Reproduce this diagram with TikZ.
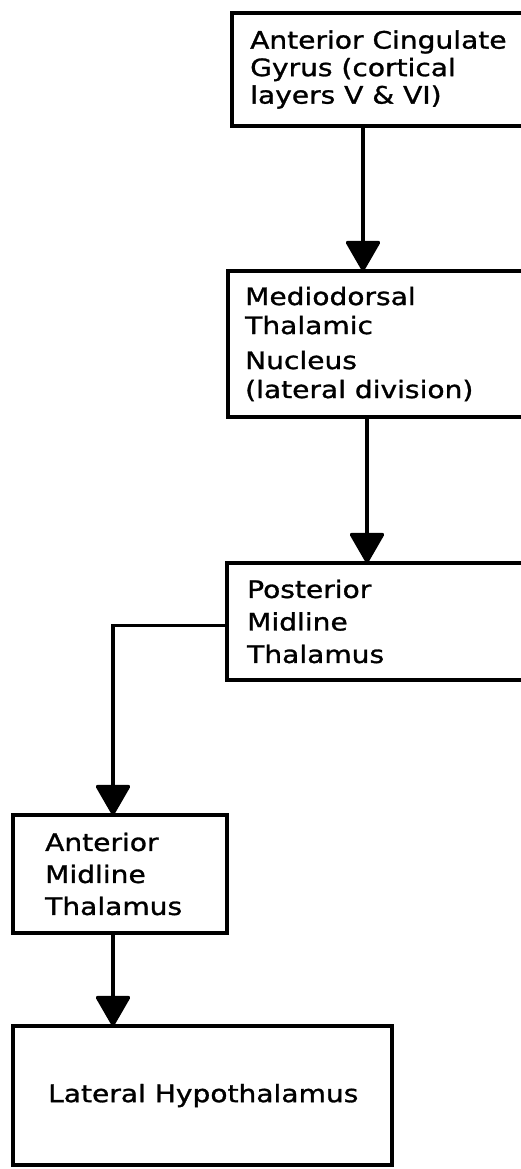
\documentclass[tikz,border=0pt]{standalone}
\usepackage{fontspec}
\setmainfont{DejaVu Sans}[FakeStretch=1.17, FakeBold=1.2]
\usetikzlibrary{arrows.meta}

\tikzset{
  box/.style={draw, line width=3.5pt, inner sep=0pt, outer sep=0pt, anchor=north west},
  label text/.style={anchor=west, align=left, inner sep=0pt,
    font=\fontsize{24}{#1}\selectfont},
  label text/.default=30,
  conn/.style={line width=3.5pt, -{Triangle[width=36pt,length=32pt,round]}},
  wire/.style={line width=3.5pt}
}

\begin{document}
\begin{tikzpicture}[x=1pt, y=-1pt]
  \clip (0,0) rectangle (521,1169);
  \fill[white] (0,0) rectangle (521,1169);

  % boxes (the upper three run past the right edge)
  \node[box, minimum width=320pt, minimum height=113pt] (acg) at (232,13) {};
  \node[box, minimum width=320pt, minimum height=146pt] (md)  at (228,271) {};
  \node[box, minimum width=320pt, minimum height=117pt] (pmt) at (227,563) {};
  \node[box, minimum width=214pt, minimum height=118pt] (amt) at (13,815) {};
  \node[box, minimum width=379pt, minimum height=139pt] (lh)  at (13,1026) {};

  % box texts
  \node[label text=27.5] (tacg) at ([xshift=18pt]acg.west)
    {Anterior Cingulate\\Gyrus (cortical\\layers V \& VI)};
  \node[label text=29] (tmd) at ([xshift=17pt]md.west)
    {Mediodorsal\\Thalamic\\[6pt]Nucleus\\(lateral division)};
  \node[label text=32.5] (tpmt) at ([xshift=20pt]pmt.west)
    {Posterior\\Midline\\Thalamus};
  \node[label text=32] (tamt) at ([xshift=32pt]amt.west)
    {Anterior\\Midline\\Thalamus};
  \node[label text] (tlh) at ([xshift=35pt]lh.west)
    {Lateral Hypothalamus};

  % connectors
  \coordinate (x1) at (363,0);
  \coordinate (x2) at (367,0);
  \draw[conn] (x1 |- acg.south) -- (x1 |- md.north);
  \draw[conn] (x2 |- md.south) -- (x2 |- pmt.north);
  \draw[conn] ([yshift=-4pt]pmt.west) -| ([xshift=-7pt]amt.north);
  \draw[conn] ([xshift=-7pt]amt.south) -- ([xshift=-7pt]amt.south |- lh.north);
\end{tikzpicture}
\end{document}
